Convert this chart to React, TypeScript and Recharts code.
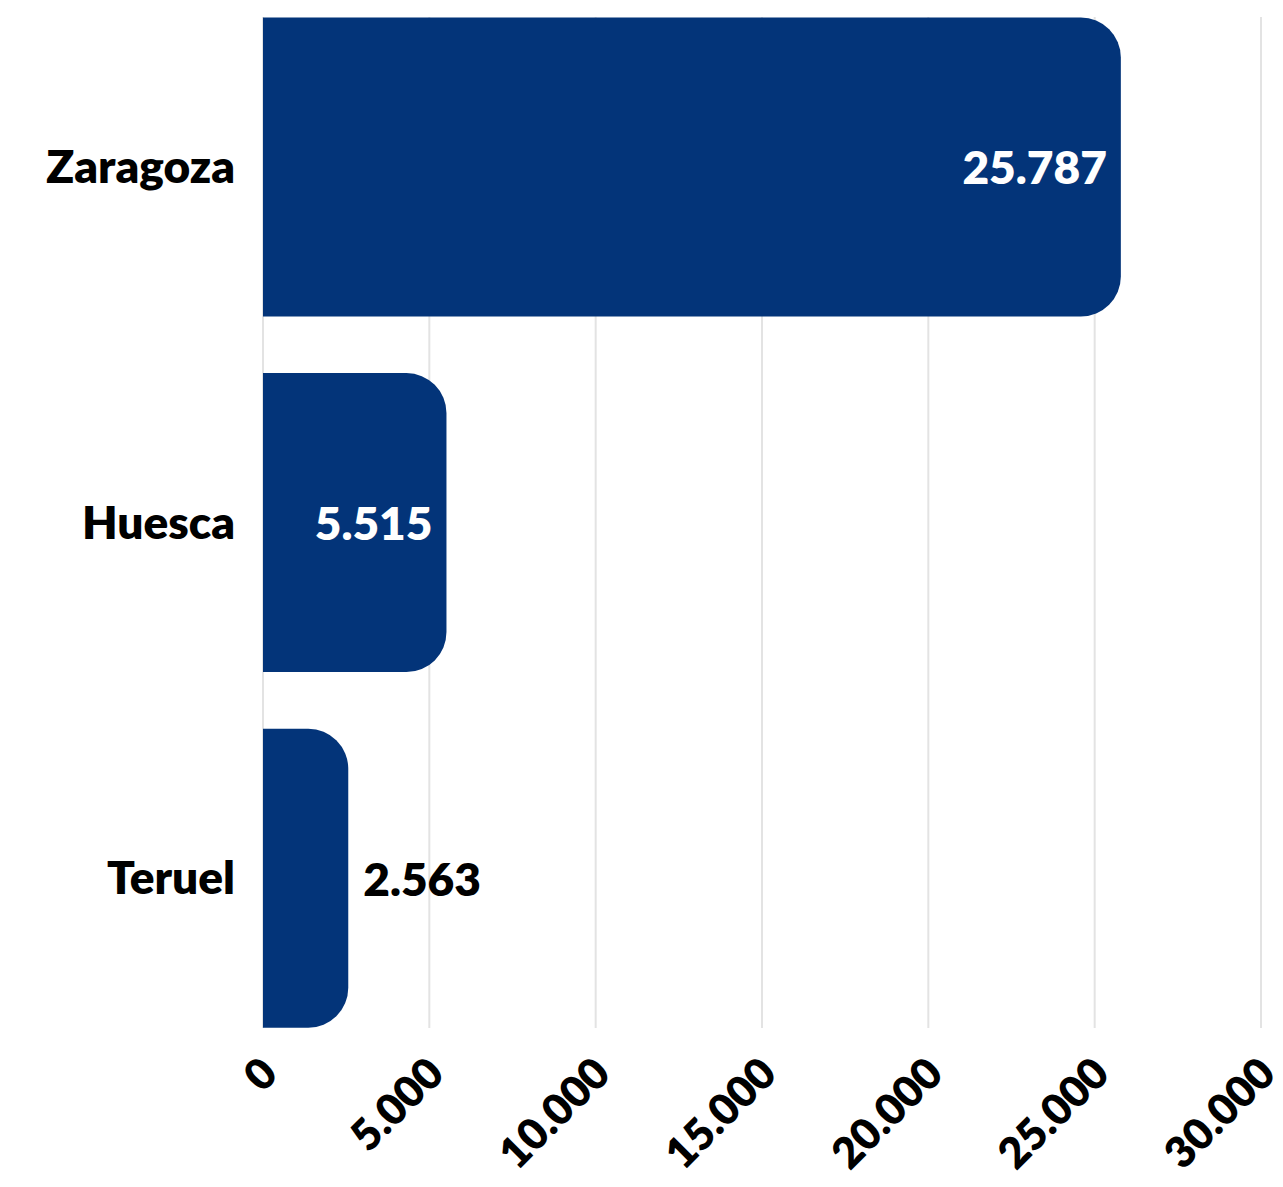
import React from 'react';
import { BarChart, Bar, XAxis, YAxis, CartesianGrid, LabelList } from 'recharts';

// ── Data ───────────────────────────────────────────────────

const provinces = ['Zaragoza', 'Huesca', 'Teruel'];
const values = [25787, 5515, 2563];
const xTicks = [0, 5000, 10000, 15000, 20000, 25000, 30000];

const data = provinces.map((name, i) => ({ name, value: values[i] }));

// ── Style ──────────────────────────────────────────────────

const BAR_COLOR = '#033479';
const FONT = 'Lato, "Open Sans", sans-serif';

const fmt = (n: number) => String(n).replace(/\B(?=(\d{3})+(?!\d))/g, '.');

const XTick = ({ x, y, payload }: any) => (
  <g transform={`translate(${x + 17},${y + 40})`}>
    <text
      x={0}
      y={0}
      textAnchor="end"
      transform="rotate(-45)"
      fontFamily={FONT}
      fontWeight={800}
      fontSize={43}
      fill="#000"
    >
      {fmt(payload.value)}
    </text>
  </g>
);

// label inside the bar when there is room, otherwise just after it
const ValueLabel = ({ x, y, width, height, value }: any) => {
  const inside = width > 150;
  return (
    <text
      x={inside ? x + width - 14 : x + width + 15}
      y={y + height / 2}
      dominantBaseline="central"
      textAnchor={inside ? 'end' : 'start'}
      fontFamily={FONT}
      fontWeight={800}
      fontSize={46}
      fill={inside ? '#fff' : '#000'}
    >
      {fmt(value)}
    </text>
  );
};

export default function App() {
  return (
    <div style={{ position: 'absolute', left: 0, top: 0, width: 1283, height: 1187, background: '#fff' }}>
      <BarChart
        width={1283}
        height={1187}
        data={data}
        layout="vertical"
        margin={{ top: 17, right: 22, bottom: 9, left: 0 }}
        barCategoryGap="8%"
      >
        <CartesianGrid horizontal={false} stroke="#e3e3e3" strokeWidth={2} />
        <XAxis
          type="number"
          domain={[0, 30000]}
          ticks={xTicks}
          interval={0}
          axisLine={false}
          tickLine={false}
          height={150}
          tick={<XTick />}
        />
        <YAxis
          type="category"
          dataKey="name"
          width={263}
          axisLine={false}
          tickLine={false}
          tickMargin={22}
          padding={{ top: -28, bottom: -28 }}
          tick={{ fontFamily: FONT, fontWeight: 800, fontSize: 46, fill: '#000' }}
        />
        <Bar dataKey="value" fill={BAR_COLOR} radius={[0, 40, 40, 0]} isAnimationActive={false}>
          <LabelList dataKey="value" content={<ValueLabel />} />
        </Bar>
      </BarChart>
    </div>
  );
}
